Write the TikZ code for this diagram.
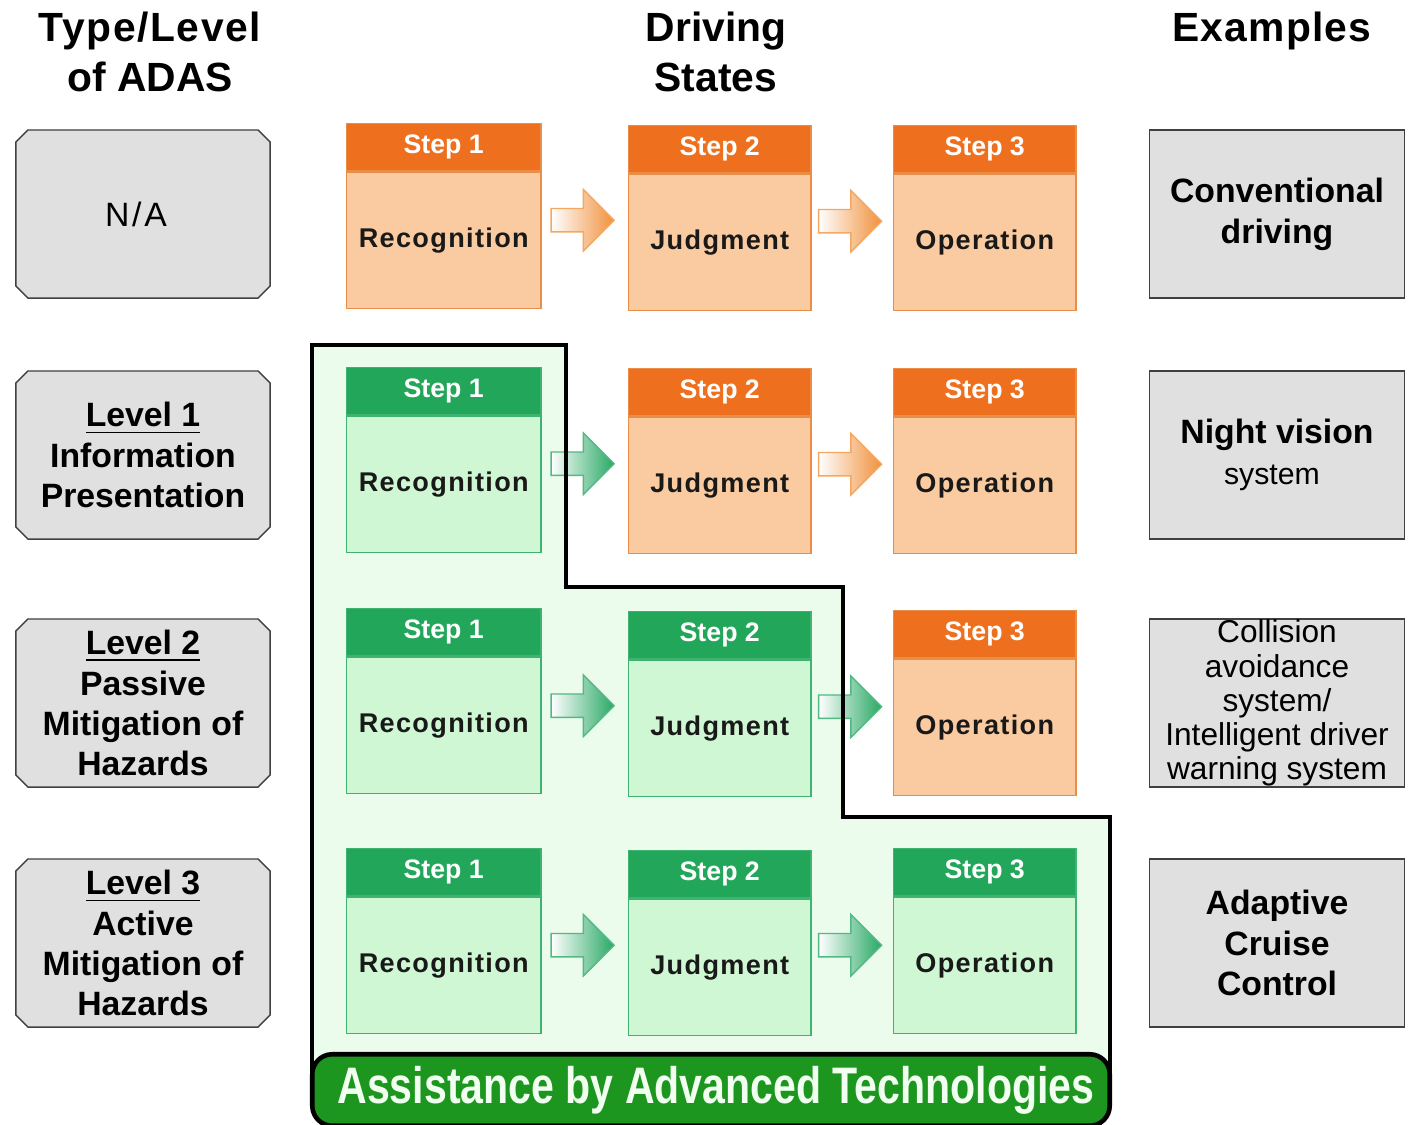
\documentclass[tikz,border=0pt]{standalone}
\usepackage{fontspec}
\setmainfont{Liberation Sans}
\usetikzlibrary{positioning,shapes.arrows,shapes.misc,calc}

\definecolor{stepor}{RGB}{238,112,30}
\definecolor{bodyor}{RGB}{250,203,160}
\definecolor{lineor}{RGB}{232,142,72}
\definecolor{arrowor}{RGB}{240,145,60}
\definecolor{stepgr}{RGB}{34,166,90}
\definecolor{bodygr}{RGB}{208,247,212}
\definecolor{linegr}{RGB}{62,180,112}
\definecolor{arrowgr}{RGB}{40,168,100}
\definecolor{zonegr}{RGB}{235,251,236}
\definecolor{bandgr}{RGB}{28,150,30}
\definecolor{boxgrey}{RGB}{224,224,224}

\tikzset{
  head/.style={rectangle, text=white, inner sep=0pt, minimum height=0.47cm,
    font=\fontsize{7.6}{9}\selectfont\bfseries},
  body/.style={rectangle, text=black!90, inner sep=0pt, minimum height=1.36cm,
    font=\fontsize{7.7}{9}\selectfont\bfseries\addfontfeature{LetterSpace=5}},
  ohead/.style={head, fill=stepor, draw=lineor},
  obody/.style={body, fill=bodyor, draw=lineor},
  ghead/.style={head, fill=stepgr, draw=linegr},
  gbody/.style={body, fill=bodygr, draw=linegr},
  wide/.style={minimum width=1.94cm},
  narrow/.style={minimum width=1.82cm},
  flow/.style={single arrow, inner xsep=0pt, inner ysep=0.11cm, minimum height=0.63cm,
    single arrow head extend=0.19cm, xshift=-0.08cm, yshift=0.21cm},
  oflow/.style={flow, left color=white, right color=arrowor, draw=arrowor!80},
  gflow/.style={flow, left color=white, right color=arrowgr, draw=arrowgr!80},
  level/.style={chamfered rectangle, chamfered rectangle xsep=0.06cm, chamfered rectangle ysep=0.06cm,
    fill=boxgrey, draw=black!75, minimum width=2.54cm, minimum height=1.68cm, inner sep=0pt,
    align=center, font=\fontsize{9.6}{11.4}\selectfont\bfseries},
  example/.style={rectangle, fill=boxgrey, draw=black!75, minimum width=2.55cm, minimum height=1.68cm,
    inner sep=0pt, align=center, font=\fontsize{9.6}{11.6}\selectfont\bfseries},
  title/.style={align=center, font=\fontsize{11.6}{14.2}\selectfont\bfseries}
}

\begin{document}
\begin{tikzpicture}[x=0.01cm,y=-0.01cm]
\useasboundingbox (0,0) rectangle (1409,1124);

% corners of the assisted zone
\coordinate (z0) at (312,1080);
\coordinate (z1) at (312,345);
\coordinate (z2) at (566,345);
\coordinate (z3) at (566,587);
\coordinate (z4) at (843,587);
\coordinate (z5) at (843,817);
\coordinate (z6) at (1110,817);
\coordinate (z7) at (1110,1080);
\fill[zonegr] (z0)--(z1)--(z2)--(z3)--(z4)--(z5)--(z6)--(z7)--cycle;

% column titles
\node[title] (ttype) at (150,52) {\addfontfeature{LetterSpace=4}Type/Level\\of ADAS};
\node[title] (tstate) at (716,52) {Driving\\States};
\node[title] (texam) at (1272,31) {\addfontfeature{LetterSpace=3}Examples};

% levels
\node[level] (l0) at (143,214) {\mdseries\addfontfeature{LetterSpace=8}\hspace*{-0.14cm}N/A};
\node[level] (l1) at (143,455) {\underline{Level 1}\\Information\\Presentation};
\node[level] (l2) at (143,703) {\underline{Level 2}\\Passive\\Mitigation of\\Hazards};
\node[level] (l3) at (143,943) {\underline{Level 3}\\Active\\Mitigation of\\Hazards};

% row 0
\node[ohead,wide,anchor=north west] (h01) at (346,123) {Step 1};
\node[obody,wide,below=0pt of h01] (b01) {Recognition};
\node[ohead,narrow,anchor=north west] (h02) at (628,125) {Step 2};
\node[obody,narrow,below=0pt of h02] (b02) {Judgment};
\node[ohead,narrow,anchor=north west] (h03) at (893,125) {Step 3};
\node[obody,narrow,below=0pt of h03] (b03) {Operation};
\node[oflow] (a01) at ($(b01.east)!0.5!(b02.west)$) {};
\node[oflow] (a02) at ($(b02.east)!0.5!(b03.west)$) {};

% row 1
\node[ghead,wide,anchor=north west] (h11) at (346,367) {Step 1};
\node[gbody,wide,below=0pt of h11] (b11) {Recognition};
\node[ohead,narrow,anchor=north west] (h12) at (628,368) {Step 2};
\node[obody,narrow,below=0pt of h12] (b12) {Judgment};
\node[ohead,narrow,anchor=north west] (h13) at (893,368) {Step 3};
\node[obody,narrow,below=0pt of h13] (b13) {Operation};
\node[gflow] (a11) at ($(b11.east)!0.5!(b12.west)$) {};
\node[oflow] (a12) at ($(b12.east)!0.5!(b13.west)$) {};

% row 2
\node[ghead,wide,anchor=north west] (h21) at (346,608) {Step 1};
\node[gbody,wide,below=0pt of h21] (b21) {Recognition};
\node[ghead,narrow,anchor=north west] (h22) at (628,611) {Step 2};
\node[gbody,narrow,below=0pt of h22] (b22) {Judgment};
\node[ohead,narrow,anchor=north west] (h23) at (893,610) {Step 3};
\node[obody,narrow,below=0pt of h23] (b23) {Operation};
\node[gflow] (a21) at ($(b21.east)!0.5!(b22.west)$) {};
\node[gflow] (a22) at ($(b22.east)!0.5!(b23.west)$) {};

% row 3
\node[ghead,wide,anchor=north west] (h31) at (346,848) {Step 1};
\node[gbody,wide,below=0pt of h31] (b31) {Recognition};
\node[ghead,narrow,anchor=north west] (h32) at (628,850) {Step 2};
\node[gbody,narrow,below=0pt of h32] (b32) {Judgment};
\node[ghead,narrow,anchor=north west] (h33) at (893,848) {Step 3};
\node[gbody,narrow,below=0pt of h33] (b33) {Operation};
\node[gflow] (a31) at ($(b31.east)!0.5!(b32.west)$) {};
\node[gflow] (a32) at ($(b32.east)!0.5!(b33.west)$) {};

% outline of the assisted zone
\draw[line width=1.4pt,line join=miter] (z0)--(z1)--(z2)--(z3)--(z4)--(z5)--(z6)--(z7);
\node[rectangle, rounded corners=0.2cm, fill=bandgr, draw=black, line width=1.3pt,
  minimum width=7.97cm, minimum height=0.62cm, text=green!6,
  font=\fontsize{14.6}{16}\selectfont\bfseries] (band) at (711,1090)
  {\hspace{0.1cm}\scalebox{0.8}[1]{Assistance by Advanced Technologies}};

% examples
\node[example] (e0) at (1277,214) {Conventional\\driving};
\node[example] (e1) at (1277,455) {Night vision\\\fontsize{8.6}{10}\selectfont\mdseries\hspace*{-0.1cm}system};
\node[example, font=\fontsize{9}{9.7}\selectfont] (e2) at (1277,703)
  {Collision\\avoidance\\system/\\Intelligent driver\\warning system};
\node[example] (e3) at (1277,943) {Adaptive\\Cruise\\Control};
\end{tikzpicture}
\end{document}
